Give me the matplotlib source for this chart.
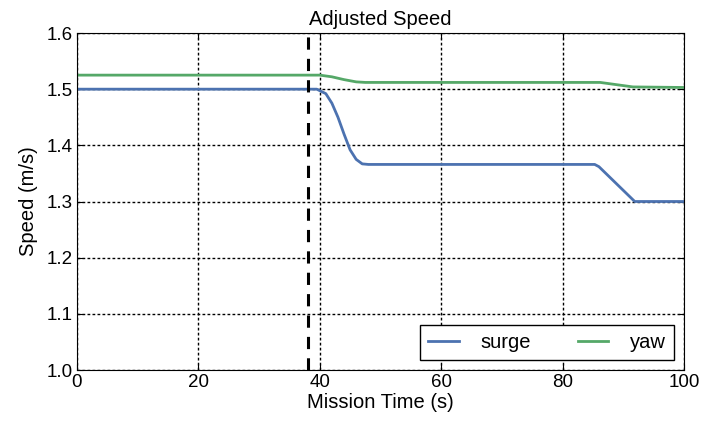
import matplotlib.pyplot as plt

plt.rcParams['font.family'] = ['Liberation Sans', 'DejaVu Sans']

# surge speed setpoint over the mission
surge_t = [0, 39.5, 41, 42, 43, 44, 45, 46, 47, 48, 85.3, 86, 91.9, 100]
surge_v = [1.5, 1.5, 1.492, 1.475, 1.45, 1.42, 1.392, 1.375, 1.367, 1.366, 1.366, 1.362, 1.30, 1.30]

# yaw speed setpoint
yaw_t = [0, 40, 42, 44, 46, 47.5, 86.2, 91.6, 100]
yaw_v = [1.525, 1.525, 1.522, 1.517, 1.513, 1.512, 1.512, 1.504, 1.503]

event_time = 38

fig = plt.figure(figsize=(7.09, 4.22), dpi=100)
ax = fig.add_axes([0.1086, 0.1232, 0.856, 0.7986])

ax.plot(surge_t, surge_v, color='#4C72B0', lw=2, label='surge')
ax.plot(yaw_t, yaw_v, color='#55A868', lw=2, label='yaw')
ax.axvline(event_time, color='k', ls='--', lw=2.2, dashes=(4, 3))

ax.set_xlim(0, 100)
ax.set_ylim(1.0, 1.6)
ax.set_xticks([0, 20, 40, 60, 80, 100])
ax.set_yticks([1.0, 1.1, 1.2, 1.3, 1.4, 1.5, 1.6])
ax.grid(True, color='k', ls=(0, (2, 1.6)), lw=1)
ax.tick_params(direction='in', top=True, right=True, length=4, labelsize=13.5, pad=3)

ax.set_title('Adjusted Speed', fontsize=14.5, pad=6)
ax.set_xlabel('Mission Time (s)', fontsize=14.5, labelpad=1)
ax.set_ylabel('Speed (m/s)', fontsize=14.5, labelpad=6)

leg = ax.legend(loc='lower right', ncol=2, fontsize=14.5, fancybox=False,
                edgecolor='k', framealpha=1, handlelength=1.5, handletextpad=1.1,
                columnspacing=2.3, borderaxespad=0.5)
leg.get_frame().set_linewidth(1)

fig.savefig('out.png', dpi=100)
